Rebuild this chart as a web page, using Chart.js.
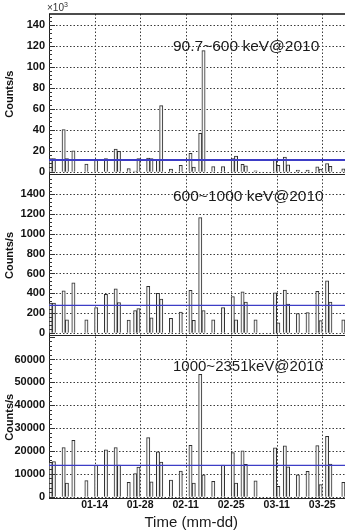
<!DOCTYPE html>
<html>
<head>
<meta charset="utf-8">
<script src="https://cdn.jsdelivr.net/npm/chart.js@4.4.1/dist/chart.umd.min.js"></script>
<style>
    html, body { margin: 0; padding: 0; background: #fff; }
    body { width: 345px; height: 530px; position: relative; overflow: hidden;
           font-family: 'Liberation Sans', Arial, sans-serif; }
    canvas { position: absolute; left: 0; }
    .txt { position: absolute; white-space: nowrap; color: #1a1a1a; }
    .title { line-height: 1; }
</style>
</head>
<body>
<canvas id="panel-low" width="345" height="185" style="top:0px"></canvas>
<canvas id="panel-mid" width="345" height="181" style="top:165px"></canvas>
<canvas id="panel-high" width="345" height="204" style="top:326px"></canvas>

<div class="txt" style="left:47px; top:3px; font-size:10px; line-height:1; color:#333">×10<span style="font-size:7px; position:relative; top:-4px">3</span></div>
<div class="txt title" style="left:173px; top:37.5px; font-size:15.5px">90.7~600 keV@2010</div>
<div class="txt title" style="left:173px; top:188px; font-size:15.5px">600~1000 keV@2010</div>
<div class="txt title" style="left:173px; top:358px; font-size:15px">1000~2351keV@2010</div>
<div class="txt title" style="left:144.5px; top:513.5px; font-size:15px">Time (mm-dd)</div>

<script>
// Daily count rates in three energy channels, early 2010

// days that have data (mm-dd)
const binDays = ['12-31', '01-01', '01-04', '01-05', '01-07', '01-11', '01-14', '01-17',
    '01-20', '01-21', '01-24', '01-26', '01-27', '01-30', '01-31', '02-02', '02-03',
    '02-06', '02-09', '02-12', '02-13', '02-15', '02-16', '02-19', '02-22', '02-25',
    '02-26', '02-28', '03-01', '03-04', '03-10', '03-11', '03-13', '03-14', '03-17',
    '03-20', '03-23', '03-24', '03-26', '03-27', '03-31'];

// 90.7~600 keV (x10^3 counts/s)
const countsLow = [12.4, 12.4, 40.2, 12.6, 20.0, 7.2, 10.8, 12.4,
    21.5, 19.5, 2.9, 0.6, 12.4, 13.0, 12.5, 11.5, 63.0,
    2.5, 6.0, 17.5, 4.5, 36.5, 115.5, 4.8, 4.8, 12.5,
    15.0, 7.0, 5.5, 0.8, 12.0, 6.0, 14.0, 6.5, 1.5,
    1.5, 4.7, 2.5, 7.8, 5.0, 2.7];

// 600~1000 keV
const countsMid = [300, 300, 425, 130, 505, 130, 255, 390,
    445, 305, 128, 225, 245, 470, 150, 400, 340,
    145, 210, 430, 125, 1165, 225, 130, 255, 365,
    130, 415, 310, 130, 405, 100, 432, 290, 195,
    205, 418, 122, 525, 310, 130];

// 1000~2351 keV
const countsHigh = [15000, 15300, 21500, 6000, 24700, 7000, 13800, 20500,
    21500, 13800, 6300, 10100, 12900, 25800, 6500, 19600, 15100,
    7300, 11200, 22500, 5900, 53500, 9600, 6700, 13800, 19300,
    6000, 20000, 14200, 6900, 21400, 4500, 22200, 13100, 9600,
    11100, 22300, 5300, 26400, 14300, 6300];

// horizontal reference levels (blue lines)
const meanLevels = [11.2, 278, 13700];

const dateTicks = ['01-14', '01-28', '02-11', '02-25', '03-11', '03-25'];
const yTicksLow = [0, 20, 40, 60, 80, 100, 120, 140];
const yTicksMid = [0, 200, 400, 600, 800, 1000, 1200, 1400];
const yTicksHigh = [0, 10000, 20000, 30000, 40000, 50000, 60000];

const FONT = "'Liberation Sans', Arial, sans-serif";

// All days on the time axis, 12-31 .. 03-31
function buildDays() {
    const out = [];
    const d = new Date(Date.UTC(2009, 11, 31));
    for (let i = 0; i < 91; i++) {
        const mm = String(d.getUTCMonth() + 1).padStart(2, '0');
        const dd = String(d.getUTCDate()).padStart(2, '0');
        out.push(mm + '-' + dd);
        d.setUTCDate(d.getUTCDate() + 1);
    }
    return out;
}

const days = buildDays();

// Map the sparse day list onto the full axis
function toSeries(values) {
    return days.map(day => {
        const i = binDays.indexOf(day);
        return i < 0 ? null : values[i];
    });
}

// Dotted grid at the labelled ticks (drawn under the bars)
const dottedGrid = {
    id: 'dottedGrid',
    beforeDatasetsDraw(chart, args, opts) {
        const { ctx, chartArea: a, scales: { x, y } } = chart;
        ctx.save();
        ctx.strokeStyle = '#3a3a3a';
        ctx.lineWidth = 1;
        ctx.setLineDash([1.5, 2]);

        opts.yTicks.forEach(v => {
            const py = Math.round(y.getPixelForValue(v)) + 0.5;
            ctx.beginPath();
            ctx.moveTo(a.left, py);
            ctx.lineTo(a.right, py);
            ctx.stroke();
        });

        const half = (x.getPixelForValue(1) - x.getPixelForValue(0)) / 2;
        dateTicks.forEach(label => {
            const px = Math.round(x.getPixelForValue(days.indexOf(label)) - half) + 0.5;
            ctx.beginPath();
            ctx.moveTo(px, a.top);
            ctx.lineTo(px, a.bottom);
            ctx.stroke();
        });
        ctx.restore();
    }
};

// Minor y ticks, blue level line and top frame
const panelDecor = {
    id: 'panelDecor',
    afterDatasetsDraw(chart, args, opts) {
        const { ctx, chartArea: a } = chart;
        const y = chart.scales.y;
        ctx.save();

        ctx.strokeStyle = '#333';
        ctx.lineWidth = 1;
        const step = opts.minorStep;
        for (let k = 0; k * step <= y.max; k++) {
            const py = Math.round(y.getPixelForValue(k * step)) + 0.5;
            const len = k % 5 === 0 ? 6 : 3;
            ctx.beginPath();
            ctx.moveTo(a.left, py);
            ctx.lineTo(a.left + len, py);
            ctx.stroke();
        }

        const ly = y.getPixelForValue(opts.level);
        ctx.strokeStyle = '#3d3dc6';
        ctx.lineWidth = opts.levelWidth;
        ctx.beginPath();
        ctx.moveTo(a.left, ly);
        ctx.lineTo(a.right, ly);
        ctx.stroke();

        if (opts.frameTop) {
            ctx.strokeStyle = '#111';
            ctx.lineWidth = 1.5;
            ctx.beginPath();
            ctx.moveTo(a.left, a.top);
            ctx.lineTo(a.right, a.top);
            ctx.stroke();
        }
        ctx.restore();
    }
};

function makePanel(id, values, cfg) {
    const ctx = document.getElementById(id);
    return new Chart(ctx, {
        type: 'bar',
        data: {
            labels: days,
            datasets: [{
                data: toSeries(values),
                borderColor: '#2e2e2e',
                backgroundColor: 'rgba(255, 255, 255, 0.9)',
                borderWidth: 1,
                borderSkipped: 'start',
                barPercentage: 1,
                categoryPercentage: 1
            }]
        },
        options: {
            responsive: false,
            animation: false,
            layout: { padding: cfg.padding },
            plugins: {
                legend: { display: false },
                tooltip: { enabled: false },
                dottedGrid: { yTicks: cfg.yTicks },
                panelDecor: {
                    minorStep: cfg.minorStep,
                    level: cfg.level,
                    levelWidth: cfg.levelWidth,
                    frameTop: cfg.frameTop
                }
            },
            scales: {
                x: {
                    type: 'category',
                    offset: true,
                    grid: { display: false, drawTicks: false },
                    border: { display: true, color: '#222', width: 1 },
                    ticks: {
                        display: cfg.showDates,
                        autoSkip: false,
                        maxRotation: 0,
                        padding: 1,
                        labelOffset: -1.6,
                        color: '#111',
                        font: { family: FONT, size: 10.5, weight: 'bold' },
                        callback: (v, i) => dateTicks.includes(days[i]) ? days[i] : null
                    },
                    afterFit: s => { s.height = cfg.showDates ? 26 : 0; }
                },
                y: {
                    min: cfg.min,
                    max: cfg.max,
                    afterBuildTicks: s => { s.ticks = cfg.yTicks.map(v => ({ value: v })); },
                    afterFit: s => { s.width = 49; },
                    grid: { display: false, drawTicks: false },
                    border: { display: true, color: '#222', width: 1 },
                    ticks: {
                        padding: 4,
                        color: '#111',
                        font: { family: FONT, size: 11, weight: 'bold' },
                        callback: v => String(v)
                    },
                    title: {
                        display: true,
                        text: 'Counts/s',
                        color: '#111',
                        font: { family: FONT, size: 11, weight: 'bold' },
                        padding: { top: 3.5, bottom: 0 }
                    }
                }
            }
        },
        plugins: [dottedGrid, panelDecor]
    });
}

function init() {
    makePanel('panel-low', countsLow, {
        padding: { top: 14, bottom: 10, left: 0, right: 0 },
        min: -2.6, max: 150.5, yTicks: yTicksLow, minorStep: 4,
        level: meanLevels[0], levelWidth: 2, frameTop: true, showDates: false
    });
    makePanel('panel-mid', countsMid, {
        padding: { top: 10, bottom: 10, left: 0, right: 0 },
        min: -27, max: 1591, yTicks: yTicksMid, minorStep: 40,
        level: meanLevels[1], levelWidth: 1.2, frameTop: false, showDates: false
    });
    makePanel('panel-high', countsHigh, {
        padding: { top: 10, bottom: 6, left: 0, right: 0 },
        min: -570, max: 70000, yTicks: yTicksHigh, minorStep: 2000,
        level: meanLevels[2], levelWidth: 1.2, frameTop: false, showDates: true
    });
}

document.addEventListener('DOMContentLoaded', init);
</script>
</body>
</html>
